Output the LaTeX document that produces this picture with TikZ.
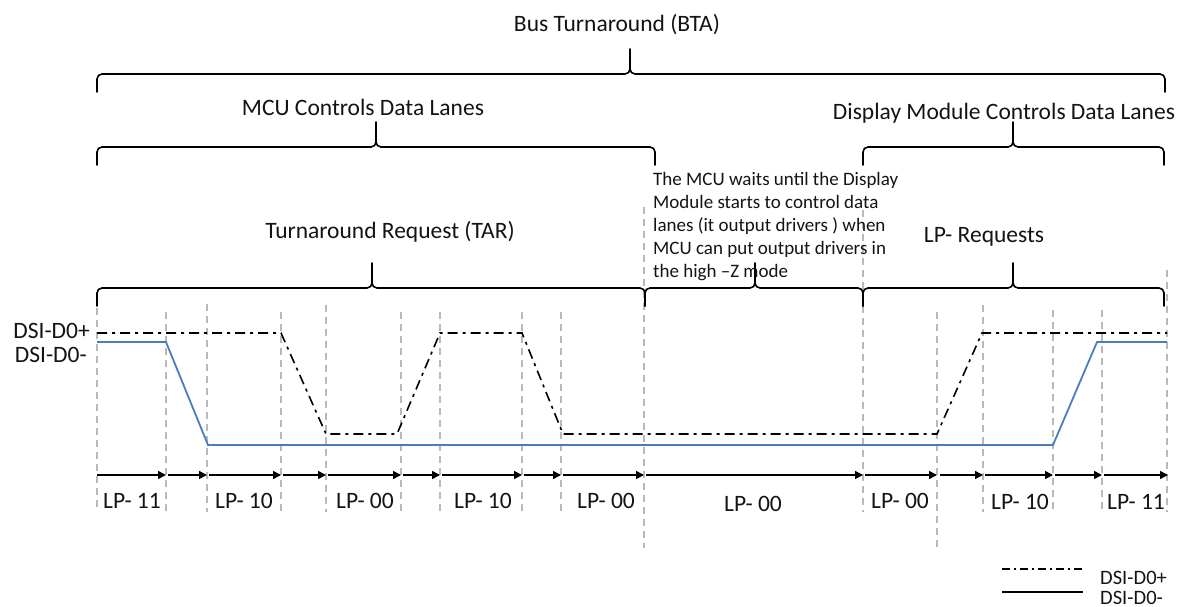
\documentclass[tikz,border=0pt]{standalone}
\usepackage{fontspec}
\setmainfont{Carlito}
\usetikzlibrary{arrows.meta}
\definecolor{sigblue}{RGB}{74,126,187}
\definecolor{gridgray}{RGB}{185,185,185}
\definecolor{txt}{RGB}{20,20,20}
\newcommand{\tlbrace}[4]{%
  \draw[bracestyle] (#1,#4+18) -- (#1,#4+5) to[out=90,in=180] (#1+5,#4) -- (#3-5,#4) to[out=0,in=-90] (#3,#4-5) -- (#3,#4-25);
  \draw[bracestyle] (#3,#4-5) to[out=-90,in=180] (#3+5,#4) -- (#2-5,#4) to[out=0,in=90] (#2,#4+5) -- (#2,#4+18);}
\begin{document}
\begin{tikzpicture}[x=1pt,y=-1pt,
  bracestyle/.style={line width=1.6pt,black,line cap=round},
  gridline/.style={gridgray,line width=1.3pt,dash pattern=on 7pt off 5pt},
  dashdot/.style={black,line width=1.6pt,dash pattern=on 10pt off 5pt on 3pt off 5pt},
  solidsig/.style={sigblue,line width=1.8pt},
  lparrow/.style={black,line width=1.6pt,-{Triangle[length=8pt,width=8pt]}},
  bigtext/.style={inner sep=0pt,text=txt,font=\fontsize{23.5}{28}\selectfont},
  lptext/.style={inner sep=0pt,text=txt,font=\fontsize{23.5}{28}\selectfont},
  notetext/.style={inner sep=0pt,text=txt,align=left,font=\fontsize{19}{23}\selectfont},
  legtext/.style={inner sep=0pt,text=txt,text depth=0pt,text height=14pt,font=\fontsize{20.5}{24}\selectfont}]
\useasboundingbox (0,0) rectangle (1180,607);
\fill[white] (0,0) rectangle (1180,607);

% vertical grid lines
\foreach \x/\t/\b in {97/308/512,166/312/512,207/304/512,281/312/512,326/305/512,401/312/512,
  440/312/512,522/312/512,561/312/512,644/207/548,863/210/512,937/312/548,983/305/512,
  1053/310/512,1102/310/512,1167/270/512}
  \draw[gridline] (\x,\t) -- (\x,\b);

% braces
\tlbrace{97}{1165}{630}{74}
\tlbrace{97}{655}{376}{147}
\tlbrace{863}{1164}{1013}{147}
\tlbrace{97}{645}{372}{288}
\tlbrace{645}{863}{755}{288}
\tlbrace{863}{1164}{1013}{288}

% labels
\node[bigtext] (bta) at (617,25) {Bus Turnaround (BTA)};
\node[bigtext] (mcu) at (363,107) {MCU Controls Data Lanes};
\node[bigtext] (dmc) at (1004,113) {Display Module Controls Data Lanes};
\node[bigtext] (tar) at (390,232) {Turnaround Request (TAR)};
\node[bigtext] (lpr) at (984,237) {LP- Requests};
\node[notetext,anchor=north west] (note) at (653,172) {The MCU waits until the Display\\Module starts to control data\\lanes (it output drivers ) when\\MCU can put output drivers in\\the high --Z mode};

\node[bigtext,anchor=east] (dp) at (90,331) {DSI-D0+};
\node[bigtext,anchor=east] (dm) at (87,355) {DSI-D0-};

% signals
\draw[dashdot] (97,333) -- (281,333) -- (326,434) -- (397,434) -- (440,333) -- (522,333)
  -- (563,434) -- (937,434) -- (982,333) -- (1167,333);
\draw[solidsig] (97,342) -- (166,342) -- (208,445) -- (1053,445) -- (1097,342) -- (1167,342);

% arrows
\foreach \a/\b in {97/166,168/207,209/281,283/326,328/401,403/440,442/522,524/561,563/644,
  646/863,865/937,940/983,985/1053,1055/1102,1104/1168}
  \draw[lparrow] (\a,475) -- (\b,475);

% LP labels
\node[lptext] (l1) at (132,501) {LP- 11};
\node[lptext] (l2) at (244,501) {LP- 10};
\node[lptext] (l3) at (365,501) {LP- 00};
\node[lptext] (l4) at (483,501) {LP- 10};
\node[lptext] (l5) at (606,501) {LP- 00};
\node[lptext] (l6) at (753,504) {LP- 00};
\node[lptext] (l7) at (900,501) {LP- 00};
\node[lptext] (l8) at (1020,502) {LP- 10};
\node[lptext] (l9) at (1136,502) {LP- 11};

% legend
\coordinate (ga) at (1002,569);
\coordinate (gb) at (1083,569);
\coordinate (gc) at (1002,592);
\coordinate (gd) at (1083,592);
\draw[black,line width=1.2pt,dash pattern=on 8pt off 4pt on 2pt off 4pt] (ga) -- (gb);
\draw[black,line width=1.6pt] (gc) -- (gd);
\node[legtext,anchor=base west] (lg1) at (1100,584) {DSI-D0+};
\node[legtext,anchor=base west] (lg2) at (1100,604) {DSI-D0-};
\end{tikzpicture}
\end{document}
